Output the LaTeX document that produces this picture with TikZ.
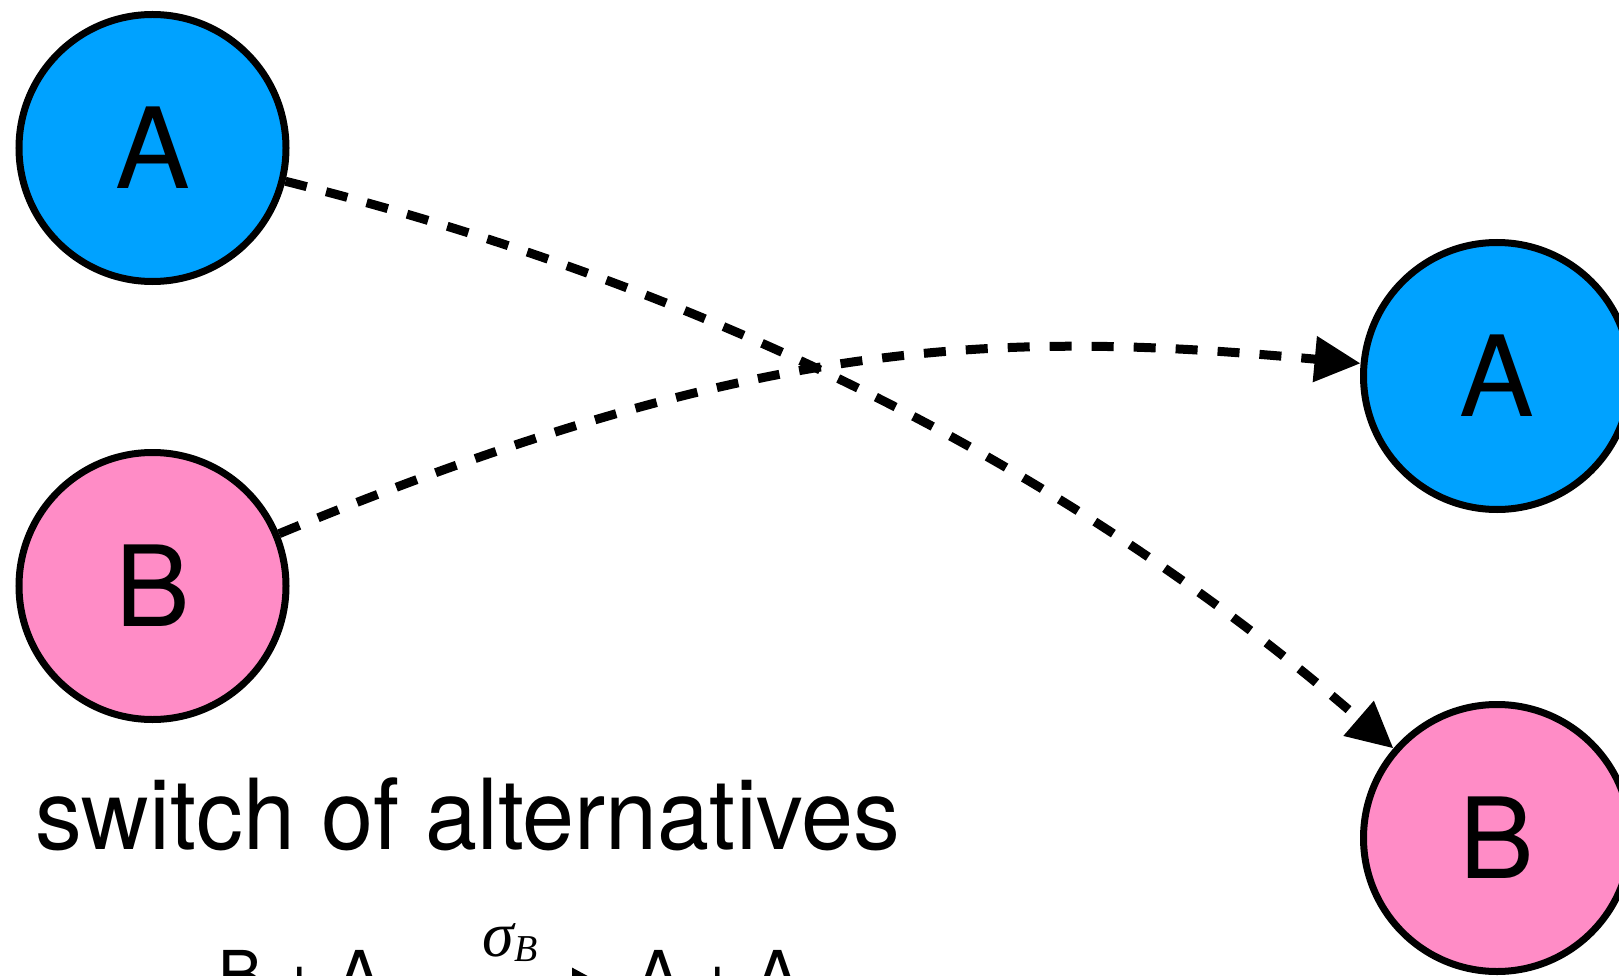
\documentclass[tikz,border=0pt]{standalone}
\usepackage{fontspec}
\setmainfont{TeX Gyre Heros}
\newfontfamily\labelfont{TeX Gyre Heros}[FakeStretch=0.955]
\newfontfamily\timesfont{Liberation Serif}
\usetikzlibrary{arrows.meta}
\definecolor{nodeblue}{RGB}{0,162,255}
\definecolor{nodepink}{RGB}{255,140,198}
\begin{document}
\begin{tikzpicture}[x=1pt,y=-1pt,
  state/.style={circle, draw=black, line width=7pt, minimum size=267pt, inner sep=0pt,
    font=\fontsize{112}{112}\selectfont},
  bluestate/.style={state, fill=nodeblue},
  pinkstate/.style={state, fill=nodepink},
  flow/.style={line width=9pt, dash pattern=on 22pt off 20pt,
    -{Triangle[length=46pt,width=44pt]}},
  formula/.style={anchor=base west, inner sep=0pt, font=\fontsize{66}{66}\selectfont},
  ]
\useasboundingbox (0,0) rectangle (1619,976);
\clip (0,0) rectangle (1619,976);
\node[bluestate] (A1) at (152.5,148) {A};
\node[pinkstate] (B1) at (152.5,586) {B};
\node[bluestate] (A2) at (1497,376) {A};
\node[pinkstate] (B2) at (1497,838) {B};
\draw[flow] (A1) .. controls (700,285) and (1060,460) .. (B2);
\draw[flow] (B1) .. controls (760,335) and (1000,330) .. (A2);
\node[anchor=base west, inner sep=0pt, font=\labelfont\fontsize{98}{98}\selectfont] (label) at (35,849) {switch of alternatives};
\node[formula] (lhs) at (218,998) {B + A};
\node[formula] (rhs) at (636,998) {A + A};
\draw[line width=3pt, -{Triangle[length=24pt,width=25pt]}] ([xshift=42pt,yshift=-6.5pt]lhs.east) -- ([xshift=-40pt,yshift=-6.5pt]rhs.west)
  node[midway, anchor=base, yshift=24pt, inner sep=0pt] (sig) {\timesfont\itshape\fontsize{64}{64}\selectfont σ\raisebox{-5pt}{\fontsize{38}{38}\selectfont B}};
\end{tikzpicture}
\end{document}
